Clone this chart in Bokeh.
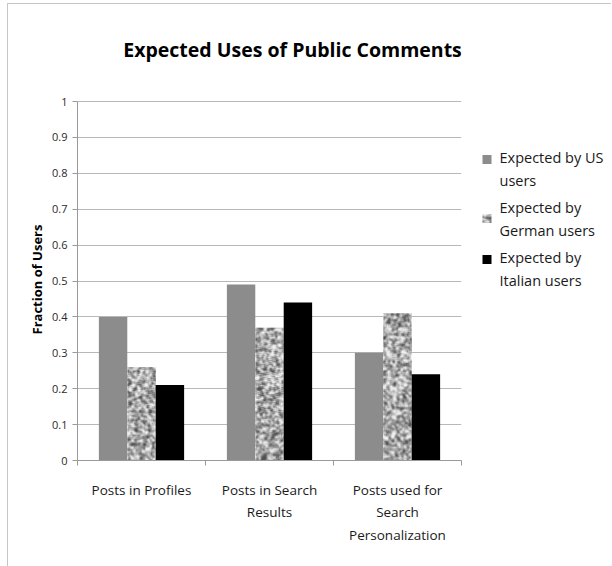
import numpy as np
from bokeh.plotting import figure
from bokeh.layouts import row
from bokeh.models import FixedTicker, ColumnDataSource, Range1d, Title
from bokeh.core.properties import value
from bokeh.embed import file_html
from bokeh.resources import INLINE

# --- data ---------------------------------------------------------------
categories = ["Posts in Profiles", "Posts in Search\nResults",
              "Posts used for\nSearch\nPersonalization"]
us_users = [0.40, 0.49, 0.30]
german_users = [0.26, 0.37, 0.41]
italian_users = [0.21, 0.44, 0.24]
series_names = ["Expected by US\nusers", "Expected by\nGerman users",
                "Expected by\nItalian users"]
y_ticks = [0, 0.1, 0.2, 0.3, 0.4, 0.5, 0.6, 0.7, 0.8, 0.9, 1]
y_tick_labels = ["0", "0.1", "0.2", "0.3", "0.4", "0.5", "0.6", "0.7", "0.8", "0.9", "1"]
title_text = "Expected Uses of Public Comments"
y_axis_title = "Fraction of Users"

FONT = "Open Sans"
H = 563                  # canvas height; the frame lines sit just outside it
MAIN_W, LEG_W = 464, 140
BORDER_TOP, BORDER_BOTTOM = 25, 107
PAGE_TOP = 4             # page offset of the canvas (margin + frame line)
PX_PER_UNIT_Y = 359      # pixels per unit of the value axis
PX_PER_UNIT_X = 128      # pixels per category
Y_TOP = (H - BORDER_TOP - BORDER_BOTTOM) / PX_PER_UNIT_Y   # headroom holds the title
BAR_W = 0.222
OFFSETS = [-BAR_W, 0.0, BAR_W]
US_COLOR, IT_COLOR = "#8c8c8c", "black"


def granite(rows, cols, seed):
    """Speckled grey stone texture as a uint32 RGBA image."""
    i, j = np.mgrid[0:rows, 0:cols].astype(float)
    n = np.sin(i * 12.9898 + j * 78.233 + seed * 3.17) * 43758.5453
    n = n - np.floor(n)
    k = np.zeros_like(n)
    for di in (-1, 0, 1):
        for dj in (-1, 0, 1):
            k += np.roll(np.roll(n, di, 0), dj, 1)
    k = (k - k.mean()) / (k.std() + 1e-9)
    g = np.clip(170 + 40 * k, 80, 240).astype(np.uint8)
    rgba = np.empty((rows, cols, 4), dtype=np.uint8)
    rgba[..., 0] = g
    rgba[..., 1] = g
    rgba[..., 2] = g
    rgba[..., 3] = 255
    return rgba.view(dtype=np.uint32).reshape(rows, cols)


# --- main chart ---------------------------------------------------------
p = figure(width=MAIN_W, height=H, output_backend="svg", toolbar_location=None,
           x_range=Range1d(0, 3), y_range=Range1d(0, Y_TOP),
           min_border_left=69, min_border_right=11,
           min_border_top=BORDER_TOP, min_border_bottom=BORDER_BOTTOM)
p.styles = {"border-top": "1px solid #c6c6c6", "border-left": "1px solid #c6c6c6",
            "margin-left": "7px", "margin-top": "3px"}
p.outline_line_color = None
p.background_fill_color = "white"
p.border_fill_color = "white"

centers = np.arange(len(categories)) + 0.5

src_us = ColumnDataSource(dict(x=centers + OFFSETS[0], top=us_users))
p.vbar(x="x", top="top", width=BAR_W, source=src_us, fill_color=US_COLOR, line_color=None)

for idx, val in enumerate(german_users):
    rows = max(1, int(round(val * PX_PER_UNIT_Y)))
    cols = max(1, int(round(BAR_W * PX_PER_UNIT_X)))
    p.image_rgba(image=[granite(rows, cols, idx + 1)],
                 x=centers[idx] + OFFSETS[1] - BAR_W / 2, y=0, dw=BAR_W, dh=val)

src_it = ColumnDataSource(dict(x=centers + OFFSETS[2], top=italian_users))
p.vbar(x="x", top="top", width=BAR_W, source=src_it, fill_color=IT_COLOR, line_color=None)

# axes (the value axis only spans 0..1; the space above holds the title)
p.yaxis.bounds = (0, 1)
p.yaxis.ticker = FixedTicker(ticks=y_ticks)
p.yaxis.major_label_overrides = {t: s for t, s in zip(y_ticks, y_tick_labels)}
p.yaxis.axis_line_color = "#9a9a9a"
p.yaxis.major_tick_line_color = "#9a9a9a"
p.yaxis.major_tick_out = 5
p.yaxis.major_tick_in = 0
p.yaxis.minor_tick_line_color = None
p.yaxis.major_label_text_font = FONT
p.yaxis.major_label_text_font_size = "11px"
p.yaxis.major_label_text_color = "#2a2a2a"
p.yaxis.major_label_standoff = 5

# value-axis title, centred on the 0..1 span rather than on the whole frame
AXIS_TITLE_LEN_PX = 107
p.add_layout(Title(text=y_axis_title, align="left",
                   offset=(PX_PER_UNIT_Y - AXIS_TITLE_LEN_PX) / 2,
                   text_font=FONT, text_font_style="bold", text_font_size="13px",
                   text_color="black", standoff=8), "left")

p.xaxis.ticker = FixedTicker(ticks=list(centers), minor_ticks=[0, 1, 2, 3])
p.xaxis.major_label_overrides = {float(c): lab for c, lab in zip(centers, categories)}
p.xaxis.axis_line_color = "#9a9a9a"
p.xaxis.major_tick_line_color = None
p.xaxis.minor_tick_line_color = "#9a9a9a"
p.xaxis.minor_tick_out = 5
p.xaxis.minor_tick_in = 0
p.xaxis.major_label_text_font = FONT
p.xaxis.major_label_text_font_size = "13.5px"
p.xaxis.major_label_text_color = "#1a1a1a"
p.xaxis.major_label_standoff = 14
p.xaxis.major_label_text_line_height = 1.26

p.xgrid.grid_line_color = None
p.ygrid.ticker = FixedTicker(ticks=y_ticks[1:])
p.ygrid.grid_line_color = "#b8b8b8"
p.ygrid.grid_line_width = 1

# chart title, set in the headroom above the value axis
TITLE_GAP_PX = 52        # title centre above the top of the value axis
p.text(x=[1.68], y=[1 + TITLE_GAP_PX / PX_PER_UNIT_Y], text=[title_text],
       text_font=value(FONT), text_font_style="bold", text_font_size="19.5px",
       text_color="black", text_align="center", text_baseline="middle")

# --- legend panel ---------------------------------------------------------
# The row lines this panel's frame up with the chart's frame, so its y range is
# expressed in page pixels (top of frame to bottom of frame), growing downward.
frame_top = PAGE_TOP + BORDER_TOP
frame_bottom = PAGE_TOP + H - BORDER_BOTTOM
leg = figure(width=LEG_W, height=H, output_backend="svg", toolbar_location=None,
             x_range=Range1d(0, LEG_W), y_range=Range1d(frame_bottom, frame_top),
             x_axis_location=None, y_axis_location=None,
             min_border_left=0, min_border_right=0,
             min_border_top=BORDER_TOP, min_border_bottom=BORDER_BOTTOM)
leg.styles = {"border-top": "1px solid #c6c6c6", "margin-top": "3px"}
leg.grid.visible = False
leg.outline_line_color = None
leg.background_fill_color = "white"
leg.border_fill_color = "white"

SW_X, SW = 15.5, 9        # swatch centre x and size
TXT_X = 28
FIRST_LINE_Y = 159
ITEM_PITCH = 50
LINE_H = 1.24

for k, name in enumerate(series_names):
    ly = FIRST_LINE_Y + k * ITEM_PITCH
    if k == 1:
        leg.image_rgba(image=[granite(SW, SW, 9)], x=SW_X - SW / 2, y=ly + SW / 2,
                       dw=SW, dh=SW)
    else:
        leg.rect(x=[SW_X], y=[ly], width=SW, height=SW,
                 fill_color=US_COLOR if k == 0 else IT_COLOR, line_color=None)
    leg.text(x=[TXT_X], y=[ly - 12], text=[name], text_font=value(FONT),
             text_font_size="14.5px", text_color="#1a1a1a",
             text_baseline="top", text_align="left", text_line_height=LINE_H)

layout = row(p, leg)
open("out.html", "w").write(file_html(layout, INLINE))
